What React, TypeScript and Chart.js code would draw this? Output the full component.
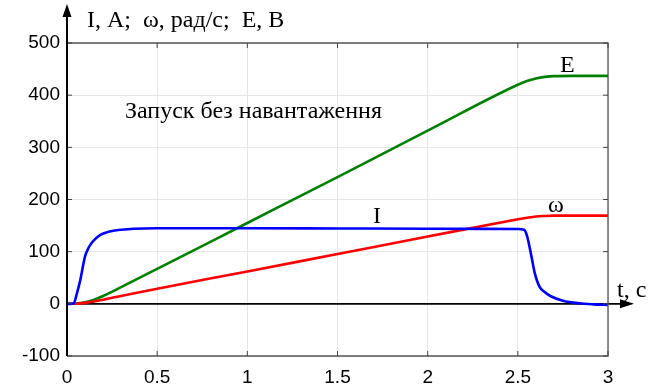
import React, { useEffect, useRef } from 'react';
import { Chart, registerables } from 'chart.js';

Chart.register(...registerables);

// Axis ticks
const xTicks = [0, 0.5, 1, 1.5, 2, 2.5, 3];
const xTickLabels = ['0', '0.5', '1', '1.5', '2', '2.5', '3'];
const yTicks = [-100, 0, 100, 200, 300, 400, 500];
const yTickLabels = ['-100', '0', '100', '200', '300', '400', '500'];

// Current I, A
const tI = [0, 0.02, 0.037, 0.055, 0.074, 0.09, 0.1, 0.115, 0.129, 0.15, 0.185, 0.22, 0.257, 0.3, 0.37, 0.5, 1.0, 1.5, 2.0, 2.5, 2.535, 2.552, 2.576, 2.594, 2.62, 2.65, 2.68, 2.75, 2.84, 2.92, 3.0];
const vI = [0, 0, 1, 20, 46, 75, 91, 104, 113, 122, 132, 137, 140, 142, 144, 145, 145, 144.5, 144, 143.5, 142, 129, 90, 59, 33, 22, 15, 6, 1, -1, -2];

// Angular speed ω, rad/s
const tW = [0, 0.05, 0.1, 0.15, 0.2, 0.3, 0.5, 1.0, 1.5, 2.0, 2.5, 2.55, 2.6, 2.65, 2.7, 2.8, 3.0];
const vW = [0, 0.3, 1.8, 4.5, 8, 15, 29, 62, 95.5, 129, 162, 165, 167.5, 168.5, 169, 169, 169];

// EMF E, V
const tE = [0, 0.05, 0.1, 0.15, 0.2, 0.3, 0.5, 1.0, 1.5, 2.0, 2.5, 2.55, 2.6, 2.65, 2.7, 2.8, 3.0];
const vE = [0, 0.5, 3, 8, 15, 32, 67, 155, 243, 332, 420, 427, 432, 435, 436.5, 437, 437];

const yAxisTitle = 'I, A;  ω, рад/с;  E, В';
const annotation = 'Запуск без навантаження';
const xAxisTitle = 't, c';

const toPts = (t: number[], v: number[]) => t.map((x, i) => ({ x, y: v[i] }));

const overlay = {
  id: 'overlay',
  beforeDatasetsDraw(chart: any) {
    const { ctx, chartArea, scales } = chart;
    const y0 = scales.y.getPixelForValue(0);
    ctx.save();
    ctx.strokeStyle = '#000';
    ctx.lineWidth = 1.6;
    ctx.beginPath();
    ctx.moveTo(chartArea.left, y0);
    ctx.lineTo(622, y0);
    ctx.stroke();
    ctx.restore();
  },
  afterDatasetsDraw(chart: any) {
    const { ctx, chartArea, scales } = chart;
    const { left, right, top, bottom } = chartArea;
    const y0 = scales.y.getPixelForValue(0);
    ctx.save();
    // frame (top, right, bottom)
    ctx.strokeStyle = '#555';
    ctx.lineWidth = 1.3;
    ctx.beginPath();
    ctx.moveTo(left, top);
    ctx.lineTo(right, top);
    ctx.lineTo(right, bottom);
    ctx.lineTo(left, bottom);
    ctx.stroke();
    // inward ticks
    ctx.strokeStyle = '#444';
    ctx.lineWidth = 1;
    ctx.beginPath();
    xTicks.forEach((v) => {
      const px = scales.x.getPixelForValue(v);
      ctx.moveTo(px, bottom);
      ctx.lineTo(px, bottom - 5);
      ctx.moveTo(px, top);
      ctx.lineTo(px, top + 5);
    });
    yTicks.forEach((v) => {
      const py = scales.y.getPixelForValue(v);
      ctx.moveTo(left, py);
      ctx.lineTo(left + 5, py);
      ctx.moveTo(right, py);
      ctx.lineTo(right - 5, py);
    });
    ctx.stroke();
    // y axis with arrow
    ctx.strokeStyle = '#000';
    ctx.fillStyle = '#000';
    ctx.lineWidth = 2;
    ctx.beginPath();
    ctx.moveTo(left, bottom);
    ctx.lineTo(left, 14);
    ctx.stroke();
    ctx.beginPath();
    ctx.moveTo(left, 4);
    ctx.lineTo(left - 4.5, 17);
    ctx.lineTo(left + 4.5, 17);
    ctx.closePath();
    ctx.fill();
    // x axis arrow head
    ctx.beginPath();
    ctx.moveTo(634, y0);
    ctx.lineTo(620, y0 - 4.5);
    ctx.lineTo(620, y0 + 4.5);
    ctx.closePath();
    ctx.fill();
    // texts
    ctx.fillStyle = '#000';
    ctx.textAlign = 'left';
    ctx.textBaseline = 'alphabetic';
    ctx.font = '24px "Liberation Serif"';
    ctx.fillText(yAxisTitle, 87, 27);
    ctx.fillText(annotation, 125, 118);
    ctx.fillText('E', 560, 72);
    ctx.fillText('ω', 548, 212);
    ctx.fillText('I', 373, 223);
    ctx.fillText(xAxisTitle, 617, 297);
    ctx.restore();
  },
};

export default function App() {
  const ref = useRef<HTMLCanvasElement>(null);
  useEffect(() => {
    const canvas = ref.current;
    if (!canvas) return;
    const lineDs = (label: string, t: number[], v: number[], color: string) => ({
      label,
      data: toPts(t, v),
      showLine: true,
      borderColor: color,
      backgroundColor: color,
      borderWidth: 2.6,
      pointRadius: 0,
      fill: false,
      cubicInterpolationMode: 'monotone' as const,
    });
    const chart = new Chart(canvas, {
      type: 'scatter',
      data: {
        datasets: [
          lineDs('I', tI, vI, 'rgb(0,0,255)'),
          lineDs('ω', tW, vW, 'rgb(255,0,0)'),
          lineDs('E', tE, vE, 'rgb(0,128,0)'),
        ],
      },
      options: {
        responsive: false,
        animation: false,
        layout: { padding: { top: 43, right: 46, left: 0, bottom: 0 } },
        plugins: { legend: { display: false }, tooltip: { enabled: false } },
        scales: {
          x: {
            type: 'linear',
            min: 0,
            max: 3,
            afterBuildTicks: (s: any) => {
              s.ticks = xTicks.map((value) => ({ value }));
            },
            afterFit: (s: any) => {
              s.height = 34;
            },
            grid: { color: '#e6e6e6', lineWidth: 1, drawTicks: false },
            border: { display: false },
            ticks: {
              padding: 10,
              color: '#000',
              maxRotation: 0,
              autoSkip: false,
              font: { family: 'Liberation Sans', size: 19 },
              callback: (_v: any, i: number) => xTickLabels[i],
            },
          },
          y: {
            type: 'linear',
            min: -100,
            max: 500,
            afterBuildTicks: (s: any) => {
              s.ticks = yTicks.map((value) => ({ value }));
            },
            afterFit: (s: any) => {
              s.width = 67;
            },
            grid: { color: '#e6e6e6', lineWidth: 1, drawTicks: false },
            border: { display: false },
            ticks: {
              padding: 7,
              color: '#000',
              autoSkip: false,
              font: { family: 'Liberation Sans', size: 19 },
              callback: (_v: any, i: number) => yTickLabels[i],
            },
          },
        },
      },
      plugins: [overlay],
    });
    return () => chart.destroy();
  }, []);
  return (
    <div style={{ position: 'fixed', left: 0, top: 0 }}>
      <canvas ref={ref} width={654} height={390} style={{ display: 'block' }} />
    </div>
  );
}
